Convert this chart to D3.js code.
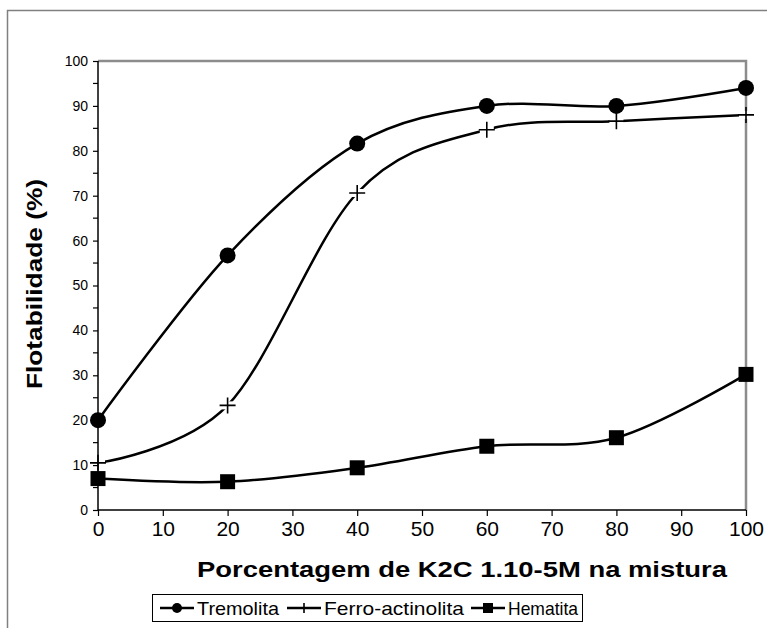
<!DOCTYPE html>
<html>
<head>
<meta charset="utf-8">
<script src="https://cdn.jsdelivr.net/npm/d3@7"></script>
<style>
  html, body { margin: 0; padding: 0; background: #fff; }
  svg { display: block; font-family: Arial, "Liberation Sans", sans-serif; }
</style>
</head>
<body>
<svg id="chart" width="767" height="628"></svg>
<script>
// ---- data ----
const xValues = [0, 20, 40, 60, 80, 100];
const tremolita = [20, 56.7, 81.6, 90, 90, 94];
const ferroActinolita = [10.5, 23.3, 70.6, 84.7, 86.6, 88];
const hematita = [7, 6.3, 9.4, 14.2, 16.1, 30.2];
const seriesNames = ["Tremolita", "Ferro-actinolita", "Hematita"];
const xTicks = [0, 10, 20, 30, 40, 50, 60, 70, 80, 90, 100];
const yTicks = [0, 10, 20, 30, 40, 50, 60, 70, 80, 90, 100];
const xTitle = "Porcentagem de K2C 1.10-5M na mistura";
const yTitle = "Flotabilidade (%)";

const svg = d3.select("#chart");
const plot = { left: 98, right: 746, top: 61, bottom: 510 };

const x = d3.scaleLinear().domain([0, 100]).range([plot.left, plot.right]);
const y = d3.scaleLinear().domain([0, 100]).range([plot.bottom, plot.top]);

// outer frame
svg.append("rect").attr("x", 7.5).attr("y", 10.5).attr("width", 900).attr("height", 900)
  .attr("fill", "#fff").attr("stroke", "#808080").attr("stroke-width", 1.5);

// plot frame top/right (gray)
svg.append("path")
  .attr("d", `M${plot.left},${plot.top}H${plot.right}V${plot.bottom}`)
  .attr("fill", "none").attr("stroke", "#8c8c8c").attr("stroke-width", 2.5);

// lines
const line = d3.line().x(d => x(d[0])).y(d => y(d[1])).curve(d3.curveCardinal.tension(0));
const allSeries = [tremolita, ferroActinolita, hematita];
const markerTypes = ["circle", "plus", "square"];

allSeries.forEach((vals, i) => {
  const pts = xValues.map((xv, j) => [xv, vals[j]]);
  svg.append("path").datum(pts).attr("d", line)
    .attr("fill", "none").attr("stroke", "#000").attr("stroke-width", 2.5);
});

// small white gaps where the line meets the plus markers
svg.append("g").selectAll("rect").data(xValues.map((xv, j) => [xv, ferroActinolita[j]])).join("rect")
  .attr("x", d => x(d[0]) - 7).attr("y", d => y(d[1]) - 4).attr("width", 14).attr("height", 8)
  .attr("fill", "#fff");

// y axis
const yAxis = d3.axisLeft(y).tickValues(yTicks).tickSize(5).tickPadding(5).tickFormat(d3.format("d"));
const gy = svg.append("g").attr("transform", `translate(${plot.left},0)`).call(yAxis);
gy.select(".domain").attr("stroke", "#000").attr("stroke-width", 1.5).attr("d", `M0,${plot.top}V${plot.bottom}`);
gy.selectAll(".tick line").attr("stroke", "#000").attr("stroke-width", 1.2);
gy.selectAll(".tick text").attr("font-size", 14).attr("fill", "#000")
  .attr("font-family", "Arial, 'Liberation Sans', sans-serif");
// minor ticks
const minor = d3.range(5, 100, 10);
svg.append("g").selectAll("line").data(minor).join("line")
  .attr("x1", plot.left - 5).attr("x2", plot.left)
  .attr("y1", d => y(d)).attr("y2", d => y(d))
  .attr("stroke", "#000").attr("stroke-width", 1.2);

// x axis
const xAxis = d3.axisBottom(x).tickValues(xTicks).tickSize(6).tickPadding(5).tickFormat(d3.format("d"));
const gx = svg.append("g").attr("transform", `translate(0,${plot.bottom})`).call(xAxis);
gx.select(".domain").attr("stroke", "#000").attr("stroke-width", 1.5).attr("d", `M${plot.left},0H${plot.right}`);
gx.selectAll(".tick line").attr("stroke", "#000").attr("stroke-width", 1.2);
gx.selectAll(".tick text").attr("font-size", 21).attr("fill", "#000")
  .attr("font-family", "Arial, 'Liberation Sans', sans-serif");

// titles
svg.append("text").attr("x", 462).attr("y", 577).attr("text-anchor", "middle")
  .attr("font-size", 22).attr("font-weight", "bold")
  .attr("textLength", 530).attr("lengthAdjust", "spacingAndGlyphs").text(xTitle);
svg.append("text").attr("transform", "translate(42,284) rotate(-90)").attr("text-anchor", "middle")
  .attr("font-size", 22).attr("font-weight", "bold")
  .attr("textLength", 210).attr("lengthAdjust", "spacingAndGlyphs").text(yTitle);

function drawMarker(g, type, cx, cy, big) {
  if (type === "circle") {
    g.append("circle").attr("cx", cx).attr("cy", cy).attr("r", big ? 8 : 5).attr("fill", "#000");
  } else if (type === "square") {
    const s = big ? 15 : 10;
    g.append("rect").attr("x", cx - s / 2).attr("y", cy - s / 2).attr("width", s).attr("height", s).attr("fill", "#000");
  } else {
    const h = big ? 8 : 5;
    g.append("path").attr("d", `M${cx - h},${cy}H${cx + h}M${cx},${cy - h}V${cy + h}`)
      .attr("stroke", "#000").attr("stroke-width", 1.6).attr("fill", "none");
  }
}

const mg = svg.append("g");
allSeries.forEach((vals, i) => {
  xValues.forEach((xv, j) => drawMarker(mg, markerTypes[i], x(xv), y(vals[j]), true));
});

// legend
const legend = svg.append("g");
legend.append("rect").attr("x", 152.5).attr("y", 594.5).attr("width", 430).attr("height", 27)
  .attr("fill", "#fff").attr("stroke", "#000").attr("stroke-width", 1);
const legendX = [160, 287, 471];
const legendW = [82, 140, 70];
seriesNames.forEach((name, i) => {
  const lx = legendX[i], ly = 608;
  legend.append("line").attr("x1", lx).attr("x2", lx + 34).attr("y1", ly).attr("y2", ly)
    .attr("stroke", "#000").attr("stroke-width", 2.5);
  drawMarker(legend, markerTypes[i], lx + 17, ly, false);
  legend.append("text").attr("x", lx + 37).attr("y", ly + 7).attr("font-size", 19)
    .attr("textLength", legendW[i]).attr("lengthAdjust", "spacingAndGlyphs").text(name);
});
</script>
</body>
</html>
